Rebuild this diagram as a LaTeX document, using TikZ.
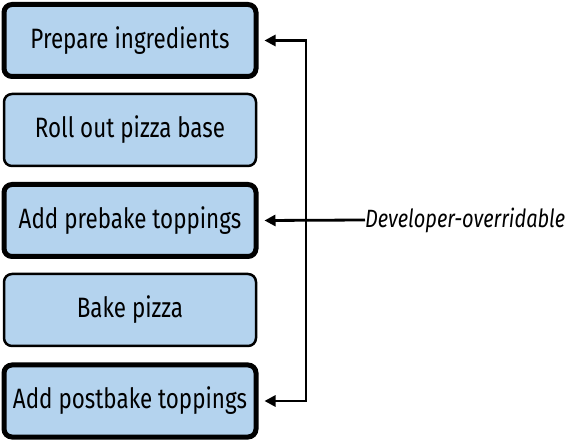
\documentclass[tikz,border=0pt]{standalone}
\usepackage{fontspec}
\setmainfont{Fira Sans}[FakeStretch=0.8]
\usetikzlibrary{arrows.meta}
\definecolor{boxblue}{RGB}{180,211,238}
\tikzset{
  x=1pt, y=-1pt,
  stepbox/.style={draw=black, fill=boxblue, rounded corners=8pt,
    minimum width=252pt, minimum height=72pt, inner sep=0pt,
    font=\fontsize{28}{30}\selectfont},
  thickbox/.style={stepbox, line width=5pt},
  thinbox/.style={stepbox, line width=2.5pt},
  arr/.style={line width=2.8pt, -{Triangle[length=11pt,width=11pt]}},
  arrboth/.style={line width=2.8pt, {Triangle[length=11pt,width=11pt]}-{Triangle[length=11pt,width=11pt]}},
  lbl/.style={font=\fontsize{25}{27}\selectfont\itshape, inner sep=0pt, anchor=west}
}
\begin{document}
\begin{tikzpicture}
\useasboundingbox (0,0) rectangle (566,441);
\node[thickbox] (b1) at (130,40.5) {Prepare ingredients};
\node[thinbox]  (b2) at (130,130) {Roll out pizza base};
\node[thickbox] (b3) at (130,220.5) {Add prebake toppings};
\node[thinbox]  (b4) at (130,310) {Bake pizza};
\node[thickbox] (b5) at (130,401) {Add postbake toppings};
\coordinate (mid) at (306,220);
\node[lbl] (dev) at (365,220) {Developer-overridable};
\draw[arrboth] ([xshift=6pt]b1.east) -| (mid) |- ([xshift=6pt]b5.east);
\draw[arr] (dev.west) -- ([xshift=6pt]b3.east);
\end{tikzpicture}
\end{document}
